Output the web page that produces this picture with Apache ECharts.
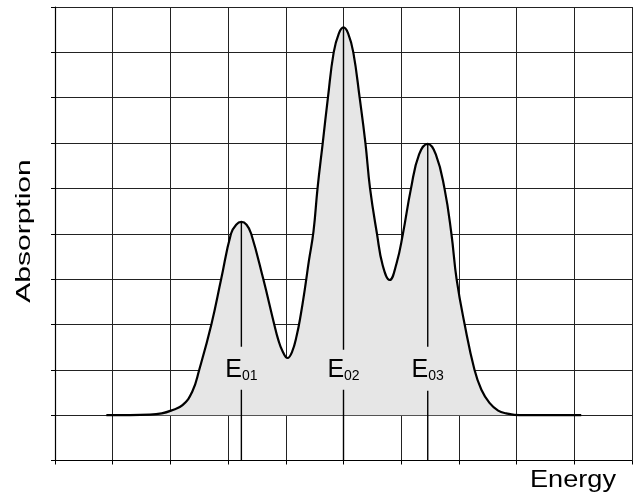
<!DOCTYPE html>
<html>
<head>
<meta charset="utf-8">
<script src="https://cdn.jsdelivr.net/npm/echarts@6/dist/echarts.min.js"></script>
<style>
  html, body { margin: 0; padding: 0; background: #fff; }
  #chart { width: 640px; height: 499px; }
</style>
</head>
<body>
<div id="chart"></div>
<script>
// Absorption spectrum with three overlapping bands (grid units on both axes)
const energy = [
  0.89, 1.30, 1.64, 1.85, 2.01, 2.21, 2.38, 2.50, 2.71, 2.88,
  3.05, 3.14, 3.23, 3.32, 3.40, 3.61, 3.80, 3.87, 3.94, 4.03,
  4.11, 4.19, 4.26, 4.33, 4.40, 4.48, 4.55, 4.64, 4.73, 4.83,
  4.92, 5.00, 5.08, 5.17, 5.28, 5.38, 5.46, 5.58, 5.68, 5.80,
  5.92, 6.03, 6.17, 6.31, 6.46, 6.60, 6.75, 6.87, 6.96, 7.10,
  7.27, 7.39, 7.53, 7.68, 7.82, 8.05, 8.60, 9.12
];
const absorption = [
  1.00, 1.00, 1.01, 1.04, 1.10, 1.22, 1.52, 2.00, 3.00, 4.00,
  5.00, 5.20, 5.26, 5.20, 5.00, 4.00, 3.00, 2.66, 2.42, 2.26,
  2.40, 2.76, 3.22, 3.78, 4.40, 5.05, 6.00, 7.00, 8.00, 9.00,
  9.42, 9.55, 9.42, 9.00, 8.00, 7.00, 6.00, 5.00, 4.30, 3.98,
  4.35, 5.00, 6.00, 6.75, 6.98, 6.75, 6.00, 5.00, 4.00, 3.00,
  2.00, 1.56, 1.27, 1.10, 1.04, 1.00, 1.00, 1.00
];

// Band centres E01..E03 and their stems
const peakSubscripts = ['01', '02', '03'];
const peakEnergy = [3.23, 5.00, 6.46];
const peakHeight = [5.26, 9.55, 6.98];
const stemUpperEnd = [2.51, 2.44, 2.51];
const stemLowerEnd = [1.56, 1.56, 1.54];
const labelLevel = [2.0, 2.0, 2.0];
const baselineLevel = 1;

const FONT = '"Liberation Sans", Arial, Helvetica, sans-serif';

const chart = echarts.init(document.getElementById('chart'), null, { renderer: 'canvas' });

const spectrum = energy.map((e, i) => [e, absorption[i]]);

const stemSeries = [];
peakEnergy.forEach((e, i) => {
  const stemStyle = { color: '#000', width: 1.4 };
  stemSeries.push({
    type: 'line', data: [[e, peakHeight[i]], [e, stemUpperEnd[i]]],
    symbol: 'none', lineStyle: stemStyle, silent: true, z: 4
  });
  stemSeries.push({
    type: 'line', data: [[e, stemLowerEnd[i]], [e, 0]],
    symbol: 'none', lineStyle: stemStyle, silent: true, z: 4
  });
});

const axisCommon = {
  type: 'value',
  min: 0,
  max: 10,
  interval: 1,
  axisLine: { show: true, onZero: false, lineStyle: { color: '#000', width: 1.2 } },
  axisTick: { show: true, inside: false, length: 4, lineStyle: { color: '#000', width: 1 } },
  axisLabel: { show: false },
  splitLine: { show: true, lineStyle: { color: '#222', width: 1 } }
};

chart.setOption({
  animation: false,
  backgroundColor: '#fff',
  grid: { left: 55, top: 7, width: 577, height: 453.5, containLabel: false },
  xAxis: Object.assign({}, axisCommon),
  yAxis: Object.assign({}, axisCommon),
  graphic: [
    {
      type: 'text',
      x: 24,
      y: 231,
      rotation: Math.PI / 2,
      scaleX: 1.5,
      style: {
        text: 'Absorption', fill: '#000', font: '20px ' + FONT,
        align: 'center', verticalAlign: 'middle'
      }
    },
    {
      type: 'text',
      x: 530,
      y: 469,
      scaleX: 1.18,
      style: {
        text: 'Energy', fill: '#000', font: '23px ' + FONT,
        align: 'left', verticalAlign: 'top'
      }
    }
  ],
  series: [
    {
      type: 'line',
      data: spectrum,
      smooth: 0.45,
      symbol: 'none',
      lineStyle: { color: '#000', width: 2.2 },
      areaStyle: { color: '#e6e6e6', opacity: 1, origin: baselineLevel },
      z: 3
    },
    ...stemSeries,
    {
      type: 'scatter',
      data: peakEnergy.map((e, i) => [e, labelLevel[i], peakSubscripts[i]]),
      symbolSize: 0,
      itemStyle: { opacity: 1 },
      silent: true,
      z: 5,
      label: {
        show: true,
        position: 'inside',
        color: '#000',
        formatter: p => '{e|E}{s|' + p.value[2] + '}',
        rich: {
          e: { fontSize: 25, color: '#000', fontFamily: FONT, lineHeight: 27 },
          s: { fontSize: 14, color: '#000', fontFamily: FONT, padding: [13, 0, 0, 0], lineHeight: 27 }
        }
      }
    }
  ]
});
</script>
</body>
</html>
